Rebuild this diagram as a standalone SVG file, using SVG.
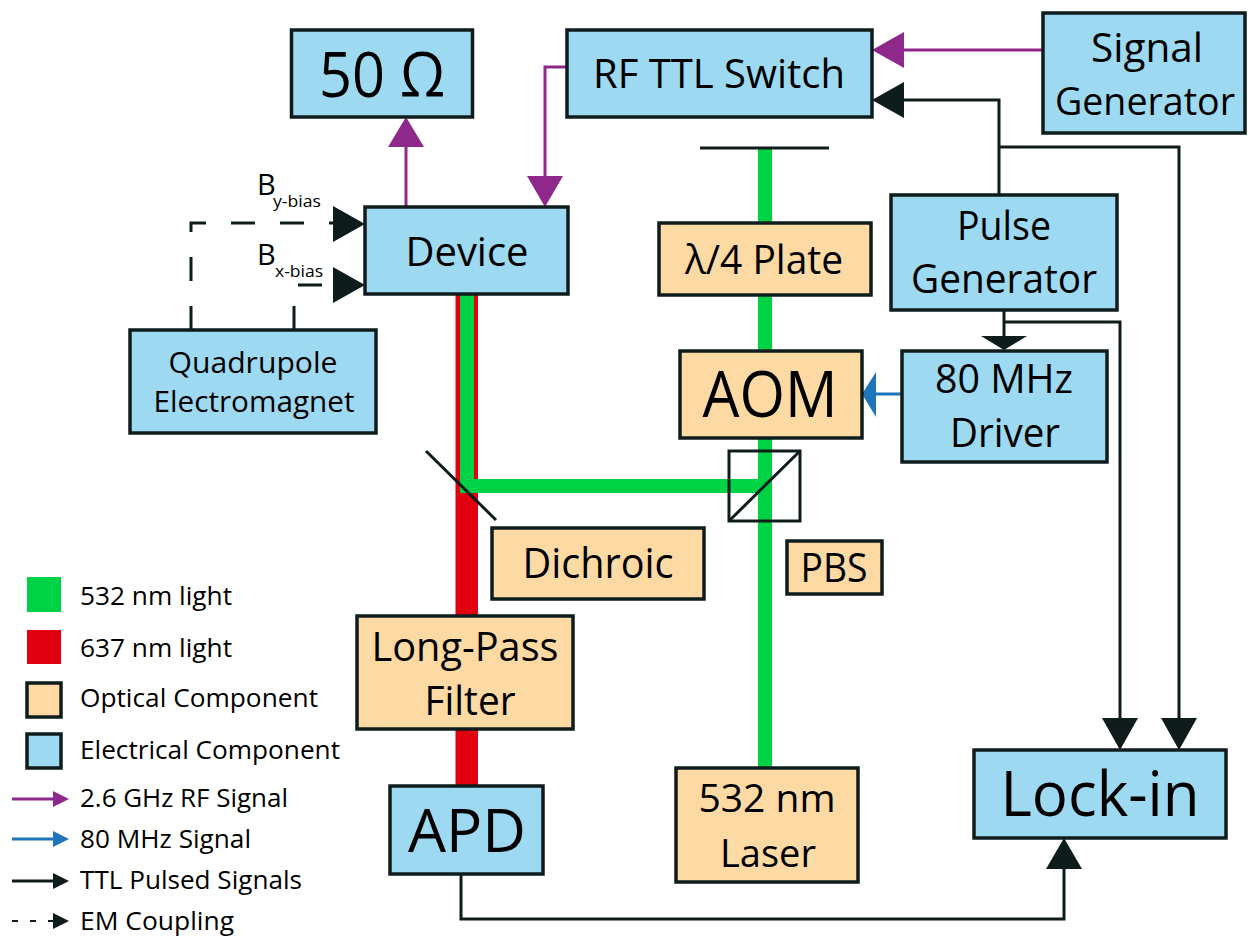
<svg xmlns="http://www.w3.org/2000/svg" width="1248" height="937" viewBox="0 0 1248 937">
<style>
.elec{fill:#9dd9f1;stroke:#0f1c1c;stroke-width:3.5}
.opt{fill:#fdd9a4;stroke:#0f1c1c;stroke-width:3.5}
.t{font-family:"Open Sans","Liberation Sans",sans-serif;fill:#000;text-anchor:middle}
.lt{font-family:"Open Sans","Liberation Sans",sans-serif;fill:#000;font-size:25px}
.rf{stroke:#8f288b;stroke-width:3;fill:none}
.rfh{fill:#8f288b}
.ttl{stroke:#0f1c1c;stroke-width:3;fill:none}
.ttlh{fill:#0f1c1c}
.mhz{stroke:#1f75bc;stroke-width:3;fill:none}
.mhzh{fill:#1f75bc}
.em{stroke:#0f1c1c;stroke-width:3;fill:none;stroke-dasharray:24 25}
.g{stroke:#00d245;fill:none}
.r{fill:#e0000f}
</style>
<rect width="1248" height="937" fill="#fff"/>
<g id="beams">
  <rect class="r" x="455.5" y="294" width="22.5" height="492"/>
  <path class="g" stroke-width="14" d="M467,294 V486 H765" stroke-linejoin="miter"/>
  <line class="g" stroke-width="14" x1="765" y1="148" x2="765" y2="768"/>
  <line x1="700" y1="148" x2="829" y2="148" stroke="#0f1c1c" stroke-width="3"/>
  <line x1="426" y1="451" x2="496" y2="520" stroke="#0f1c1c" stroke-width="3"/>
</g>
<g id="pbs-cube">
  <rect x="729" y="451" width="71" height="70" fill="none" stroke="#0f1c1c" stroke-width="3"/>
  <line x1="729" y1="521" x2="800" y2="451" stroke="#0f1c1c" stroke-width="3"/>
</g>
<g id="connectors">
  <line class="rf" x1="406" y1="207" x2="406" y2="146"/>
  <polygon class="rfh" points="406,117 388,147 424,147"/>
  <polyline class="rf" points="567,67 545,67 545,177"/>
  <polygon class="rfh" points="545,207 527,176 563,176"/>
  <line class="rf" x1="1043" y1="50" x2="903" y2="50"/>
  <polygon class="rfh" points="872,50 904,32 904,68"/>
  <polyline class="ttl" points="903,100 999,100 999,195"/>
  <polygon class="ttlh" points="872,100 904,82 904,118"/>
  <polyline class="ttl" points="999,147 1179,147 1179,719"/>
  <polygon class="ttlh" points="1179,750 1161,718 1197,718"/>
  <line class="ttl" x1="1004" y1="310" x2="1004" y2="337"/>
  <polygon class="ttlh" points="1004,350 981,336 1027,336"/>
  <polyline class="ttl" points="1004,322 1120,322 1120,719"/>
  <polygon class="ttlh" points="1120,750 1102,718 1138,718"/>
  <polyline class="ttl" points="461,874 461,919 1064,919 1064,868"/>
  <polygon class="ttlh" points="1064,838 1046,869 1082,869"/>
  <line class="mhz" x1="902" y1="394" x2="875" y2="394"/>
  <polygon class="mhzh" points="862,394 876,372 876,417"/>
  <polyline class="em" points="191,330 191,223 334,223"/>
  <polygon class="ttlh" points="365,224 333,206 333,242"/>
  <polyline class="em" points="294,330 294,285 334,285"/>
  <polygon class="ttlh" points="365,285 333,267 333,303"/>
  <text class="t" x="257" y="195" font-size="29" style="text-anchor:start">B</text>
  <text class="t" x="273" y="207" font-size="17" style="text-anchor:start" textLength="48" lengthAdjust="spacingAndGlyphs">y-bias</text>
  <text class="t" x="257" y="265" font-size="29" style="text-anchor:start">B</text>
  <text class="t" x="275" y="277" font-size="17" style="text-anchor:start" textLength="48" lengthAdjust="spacingAndGlyphs">x-bias</text>
</g>
<g id="n50ohm">
  <rect class="elec" x="291.5" y="30" width="181" height="87"/>
  <text class="t" x="382" y="97" font-size="62" textLength="126" lengthAdjust="spacingAndGlyphs">50 Ω</text>
</g>
<g id="device">
  <rect class="elec" x="365" y="207" width="203" height="87"/>
  <text class="t" x="467" y="266" font-size="41" textLength="123" lengthAdjust="spacingAndGlyphs">Device</text>
</g>
<g id="rfswitch">
  <rect class="elec" x="567" y="30" width="305" height="87"/>
  <text class="t" x="719" y="88" font-size="40" textLength="252" lengthAdjust="spacingAndGlyphs">RF TTL Switch</text>
</g>
<g id="siggen">
  <rect class="elec" x="1043" y="13" width="202" height="120"/>
  <text class="t" x="1147" y="62" font-size="40" textLength="112" lengthAdjust="spacingAndGlyphs">Signal</text>
  <text class="t" x="1145" y="115" font-size="38" textLength="180" lengthAdjust="spacingAndGlyphs">Generator</text>
</g>
<g id="waveplate">
  <rect class="opt" x="659" y="223" width="212" height="72"/>
  <text class="t" x="764" y="274" font-size="40" textLength="158" lengthAdjust="spacingAndGlyphs">λ/4 Plate</text>
</g>
<g id="pulsegen">
  <rect class="elec" x="891" y="195" width="226" height="115"/>
  <text class="t" x="1004" y="240" font-size="40" textLength="94" lengthAdjust="spacingAndGlyphs">Pulse</text>
  <text class="t" x="1004" y="293" font-size="40" textLength="186" lengthAdjust="spacingAndGlyphs">Generator</text>
</g>
<g id="driver">
  <rect class="elec" x="902" y="351" width="205" height="111"/>
  <text class="t" x="1004" y="393" font-size="40" textLength="138" lengthAdjust="spacingAndGlyphs">80 MHz</text>
  <text class="t" x="1005" y="447" font-size="40" textLength="110" lengthAdjust="spacingAndGlyphs">Driver</text>
</g>
<g id="aom">
  <rect class="opt" x="680" y="351" width="182" height="87"/>
  <text class="t" x="770" y="417" font-size="64" textLength="135" lengthAdjust="spacingAndGlyphs">AOM</text>
</g>
<g id="quadrupole">
  <rect class="elec" x="130" y="330" width="246" height="103"/>
  <text class="t" x="253" y="373" font-size="29" textLength="169" lengthAdjust="spacingAndGlyphs">Quadrupole</text>
  <text class="t" x="254" y="412" font-size="29" textLength="201" lengthAdjust="spacingAndGlyphs">Electromagnet</text>
</g>
<g id="dichroic">
  <rect class="opt" x="492" y="528" width="212" height="71"/>
  <text class="t" x="598" y="578" font-size="42" textLength="151" lengthAdjust="spacingAndGlyphs">Dichroic</text>
</g>
<g id="pbs">
  <rect class="opt" x="787" y="541" width="95" height="53"/>
  <text class="t" x="834" y="582" font-size="40" textLength="67" lengthAdjust="spacingAndGlyphs">PBS</text>
</g>
<g id="longpass">
  <rect class="opt" x="357" y="616" width="216" height="113"/>
  <text class="t" x="465" y="661" font-size="40" textLength="187" lengthAdjust="spacingAndGlyphs">Long-Pass</text>
  <text class="t" x="470" y="715" font-size="40" textLength="91" lengthAdjust="spacingAndGlyphs">Filter</text>
</g>
<g id="apd">
  <rect class="elec" x="390" y="786" width="153" height="88"/>
  <text class="t" x="467" y="852" font-size="60" textLength="118" lengthAdjust="spacingAndGlyphs">APD</text>
</g>
<g id="laser">
  <rect class="opt" x="676" y="768" width="182" height="114"/>
  <text class="t" x="767" y="812" font-size="39" textLength="137" lengthAdjust="spacingAndGlyphs">532 nm</text>
  <text class="t" x="768" y="867" font-size="39" textLength="96" lengthAdjust="spacingAndGlyphs">Laser</text>
</g>
<g id="lockin">
  <rect class="elec" x="974" y="750" width="252" height="88"/>
  <text class="t" x="1100" y="816" font-size="62" textLength="199" lengthAdjust="spacingAndGlyphs">Lock-in</text>
</g>
<g id="legend">
  <rect x="27" y="577" width="34" height="35" fill="#00d245"/>
  <text class="lt" x="80" y="605" textLength="152" lengthAdjust="spacingAndGlyphs">532 nm light</text>
  <rect x="27" y="630" width="34" height="34" fill="#e0000f"/>
  <text class="lt" x="80" y="657" textLength="152" lengthAdjust="spacingAndGlyphs">637 nm light</text>
  <rect class="opt" x="27" y="683" width="34" height="34"/>
  <text class="lt" x="80" y="707" textLength="238" lengthAdjust="spacingAndGlyphs">Optical Component</text>
  <rect class="elec" x="27" y="734" width="34" height="34"/>
  <text class="lt" x="80" y="759" textLength="260" lengthAdjust="spacingAndGlyphs">Electrical Component</text>
  <line class="rf" x1="12" y1="799" x2="54" y2="799" stroke-width="2"/>
  <polygon class="rfh" points="69,799 53,791 53,807"/>
  <text class="lt" x="80" y="807" textLength="208" lengthAdjust="spacingAndGlyphs">2.6 GHz RF Signal</text>
  <line class="mhz" x1="12" y1="839" x2="54" y2="839" stroke-width="2"/>
  <polygon class="mhzh" points="69,839 53,831 53,847"/>
  <text class="lt" x="80" y="848" textLength="171" lengthAdjust="spacingAndGlyphs">80 MHz Signal</text>
  <line class="ttl" x1="12" y1="881" x2="54" y2="881" stroke-width="2"/>
  <polygon class="ttlh" points="69,881 53,873 53,889"/>
  <text class="lt" x="80" y="889" textLength="222" lengthAdjust="spacingAndGlyphs">TTL Pulsed Signals</text>
  <line x1="12" y1="921" x2="54" y2="921" stroke="#0f1c1c" stroke-width="2" stroke-dasharray="6 12"/>
  <polygon class="ttlh" points="69,921 53,913 53,929"/>
  <text class="lt" x="80" y="930" textLength="154" lengthAdjust="spacingAndGlyphs">EM Coupling</text>
</g>
</svg>
